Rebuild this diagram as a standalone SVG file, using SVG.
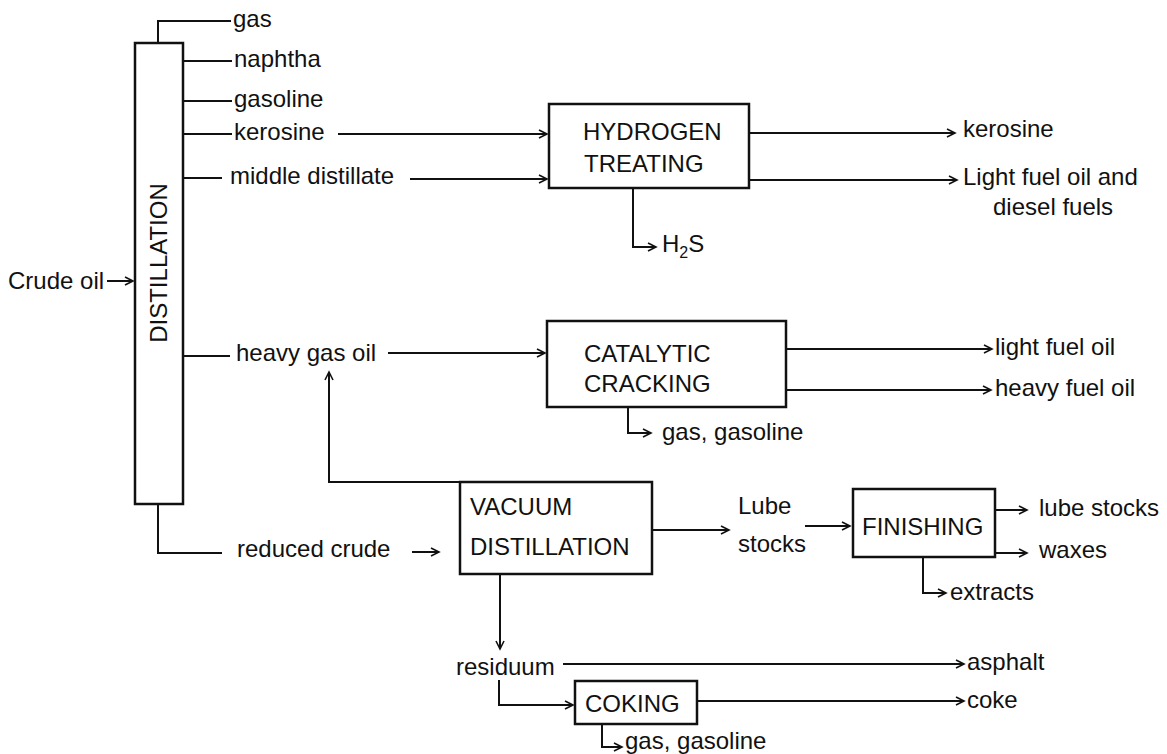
<svg xmlns="http://www.w3.org/2000/svg" width="1167" height="754" viewBox="0 0 1167 754">
<style>
  text { font-family: "Liberation Sans", Arial, sans-serif; font-size: 24px; fill: #111; }
  .box { fill: none; stroke: #111; stroke-width: 2.5; }
  .ln { fill: none; stroke: #111; stroke-width: 2; }
  .ar { fill: none; stroke: #111; stroke-width: 2; marker-end: url(#arr); }
</style>
<defs>
  <marker id="arr" markerUnits="userSpaceOnUse" markerWidth="12" markerHeight="12" refX="9" refY="5" orient="auto">
    <path d="M1,1 L9,5 L1,9" fill="none" stroke="#111" stroke-width="1.6"/>
  </marker>
</defs>
<rect width="1167" height="754" fill="#fff"/>

<g id="distillation">
  <rect class="box" x="135" y="43" width="48" height="461"/>
  <text transform="translate(167,263) rotate(-90)" text-anchor="middle">DISTILLATION</text>
</g>
<g id="hydrogen-treating">
  <rect class="box" x="549" y="104" width="200" height="84"/>
  <text x="583" y="140">HYDROGEN</text>
  <text x="584" y="172">TREATING</text>
</g>
<g id="catalytic-cracking">
  <rect class="box" x="547" y="321" width="239" height="86"/>
  <text x="584" y="362">CATALYTIC</text>
  <text x="584" y="392">CRACKING</text>
</g>
<g id="vacuum-distillation">
  <rect class="box" x="460" y="482" width="192" height="92"/>
  <text x="470" y="515">VACUUM</text>
  <text x="470" y="555">DISTILLATION</text>
</g>
<g id="finishing">
  <rect class="box" x="853" y="489" width="142" height="68"/>
  <text x="862" y="535">FINISHING</text>
</g>
<g id="coking">
  <rect class="box" x="575" y="681" width="122" height="43"/>
  <text x="585" y="712">COKING</text>
</g>

<g id="labels">
  <text x="233" y="27">gas</text>
  <text x="234" y="67">naphtha</text>
  <text x="234" y="107">gasoline</text>
  <text x="234" y="140">kerosine</text>
  <text x="230" y="184">middle distillate</text>
  <text x="8" y="289">Crude oil</text>
  <text x="963" y="137">kerosine</text>
  <text x="963" y="185">Light fuel oil and</text>
  <text x="993" y="215">diesel fuels</text>
  <text x="662" y="252">H<tspan font-size="16" dy="6">2</tspan><tspan dy="-6">S</tspan></text>
  <text x="236" y="361">heavy gas oil</text>
  <text x="995" y="355">light fuel oil</text>
  <text x="995" y="396">heavy fuel oil</text>
  <text x="662" y="440">gas, gasoline</text>
  <text x="237" y="557">reduced crude</text>
  <text x="738" y="514">Lube</text>
  <text x="738" y="552">stocks</text>
  <text x="1039" y="516">lube stocks</text>
  <text x="1039" y="558">waxes</text>
  <text x="950" y="600">extracts</text>
  <text x="456" y="675">residuum</text>
  <text x="967" y="670">asphalt</text>
  <text x="967" y="708">coke</text>
  <text x="625" y="749">gas, gasoline</text>
</g>

<g id="connectors">
  <path class="ln" d="M158,43 V21 H231"/>
  <path class="ln" d="M183,61 H232"/>
  <path class="ln" d="M183,101 H232"/>
  <path class="ln" d="M183,134 H232"/>
  <path class="ar" d="M338,134 H547"/>
  <path class="ln" d="M183,178 H222"/>
  <path class="ar" d="M410,179 H547"/>
  <path class="ar" d="M107,281 H133"/>
  <path class="ar" d="M749,133 H955"/>
  <path class="ar" d="M749,180 H957"/>
  <path class="ar" d="M633,188 V247 H656"/>
  <path class="ln" d="M183,356 H230"/>
  <path class="ar" d="M388,353 H545"/>
  <path class="ar" d="M786,349 H992"/>
  <path class="ar" d="M786,390 H991"/>
  <path class="ar" d="M628,407 V433 H651"/>
  <path class="ar" d="M460,482 H329 V372"/>
  <path class="ln" d="M158,504 V553 H222"/>
  <path class="ar" d="M412,552 H439"/>
  <path class="ar" d="M652,530 H729"/>
  <path class="ar" d="M805,526 H850"/>
  <path class="ar" d="M995,510 H1027"/>
  <path class="ar" d="M995,553 H1027"/>
  <path class="ar" d="M923,557 V593 H946"/>
  <path class="ar" d="M500,574 V649"/>
  <path class="ar" d="M563,664 H964"/>
  <path class="ar" d="M499,680 V705 H573"/>
  <path class="ar" d="M697,701 H964"/>
  <path class="ar" d="M602,724 V747 H622"/>
</g>
</svg>
